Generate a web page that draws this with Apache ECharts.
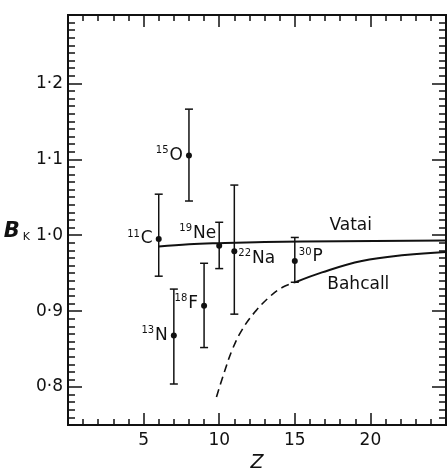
<!DOCTYPE html>
<html>
<head>
<meta charset="utf-8">
<script src="https://cdn.jsdelivr.net/npm/echarts@6/dist/echarts.min.js"></script>
<style>
html, body { margin: 0; padding: 0; background: #fff; }
#chart { width: 448px; height: 468px; }
</style>
</head>
<body>
<div id="chart"></div>
<script>
// measured nuclides
const nuclideMass = ['11', '15', '19', '22', '30', '18', '13'];
const nuclideSymbol = ['C', 'O', 'Ne', 'Na', 'P', 'F', 'N'];
const nuclideZ = [6, 8, 10, 11, 15, 9, 7];
const nuclideB = [0.995, 1.105, 0.986, 0.979, 0.966, 0.907, 0.868];
const errHigh = [1.054, 1.166, 1.017, 1.066, 0.997, 0.963, 0.929];
const errLow = [0.946, 1.045, 0.956, 0.896, 0.938, 0.852, 0.804];

// theory curves
const vataiZ = [6, 8, 10, 13, 18, 25];
const vataiB = [0.985, 0.988, 0.9895, 0.991, 0.992, 0.993];
const bahcallDashZ = [9.82, 10.33, 10.88, 11.53, 12.41, 13.4, 14.16, 15.04];
const bahcallDashB = [0.787, 0.819, 0.850, 0.876, 0.900, 0.920, 0.931, 0.938];
const bahcallZ = [15.04, 16.8, 19.43, 22.28, 25];
const bahcallB = [0.938, 0.951, 0.966, 0.974, 0.978];

// axes
const xLabelValues = [5, 10, 15, 20];
const yLabelValues = [0.8, 0.9, 1.0, 1.1, 1.2];
const yMinorValues = [];
for (let i = 75; i <= 129; i++) yMinorValues.push(i / 100);

const ink = '#111';
const font = 'DejaVu Sans';

// where each nuclide label sits relative to its point
const labelPlace = [
    { position: 'left', distance: 3, offset: [0, 0] },
    { position: 'left', distance: 3, offset: [0, 0] },
    { position: 'left', distance: 0, offset: [0, -12] },
    { position: 'right', distance: 1, offset: [0, 7] },
    { position: 'right', distance: 1, offset: [0, -4] },
    { position: 'left', distance: 3, offset: [0, -2] },
    { position: 'left', distance: 3, offset: [0, 0] }
];

const richLabel = {
    sup: { fontSize: 10, fontFamily: font, color: ink, verticalAlign: 'top', lineHeight: 10, padding: [0, 1, 0, 0] },
    el: { fontSize: 17, fontFamily: font, color: ink, lineHeight: 20 }
};

function xAxisCfg(pos) {
    return {
        type: 'value', min: 0, max: 25, interval: 5, position: pos,
        axisLine: { show: true, lineStyle: { color: ink, width: 2 } },
        axisTick: { show: true, inside: true, length: 12, lineStyle: { color: ink, width: 1.5 } },
        minorTick: { show: true, splitNumber: 5, length: 6, lineStyle: { color: ink, width: 1.5 } },
        axisLabel: {
            show: pos === 'bottom', customValues: xLabelValues, margin: 7,
            fontSize: 17, fontFamily: font, color: ink
        },
        splitLine: { show: false },
        minorSplitLine: { show: false },
        name: pos === 'bottom' ? 'Z' : '',
        nameLocation: 'middle', nameGap: 27,
        nameTextStyle: { fontSize: 19, fontStyle: 'italic', fontFamily: font, color: ink }
    };
}

function yAxisCfg(pos, major) {
    return {
        type: 'value', min: 0.75, max: 1.29, position: pos,
        axisLine: { show: true, lineStyle: { color: ink, width: 2 } },
        axisTick: {
            show: true, inside: true, customValues: major ? yLabelValues : yMinorValues,
            length: major ? 14 : 7, lineStyle: { color: ink, width: 1.5 }
        },
        axisLabel: {
            show: major && pos === 'left', customValues: yLabelValues, margin: 5,
            fontSize: 17, fontFamily: font, color: ink,
            formatter: v => v.toFixed(1).replace('.', '·')
        },
        splitLine: { show: false },
        name: major && pos === 'left' ? '{b|B}{k|K}' : '',
        nameLocation: 'middle', nameGap: 35, nameRotate: 0,
        nameTextStyle: {
            padding: [24, 0, 0, 0],
            rich: {
                b: { fontSize: 21, fontStyle: 'italic', fontWeight: 'bold', fontFamily: font, color: ink },
                k: { fontSize: 11, fontFamily: font, color: ink, verticalAlign: 'bottom', padding: [10, 0, 0, 3] }
            }
        }
    };
}

const chart = echarts.init(document.getElementById('chart'));
chart.setOption({
    animation: false,
    backgroundColor: '#fff',
    grid: { left: 68, right: 2, top: 15, bottom: 43, containLabel: false, outerBoundsMode: 'none' },
    xAxis: [xAxisCfg('bottom'), xAxisCfg('top')],
    yAxis: [yAxisCfg('left', true), yAxisCfg('left', false), yAxisCfg('right', true), yAxisCfg('right', false)],
    series: [
        {
            name: 'Vatai', type: 'line', smooth: 0.4, symbol: 'none',
            lineStyle: { color: ink, width: 2 },
            data: vataiZ.map((z, i) => [z, vataiB[i]]),
            markPoint: {
                symbol: 'circle', symbolSize: 1, itemStyle: { color: 'transparent' },
                label: { show: true, position: 'inside', formatter: 'Vatai', fontSize: 17, fontFamily: font, color: ink },
                data: [{ coord: [18.7, 1.013] }]
            }
        },
        {
            name: 'Bahcall (dashed)', type: 'line', smooth: 0.4, symbol: 'none',
            lineStyle: { color: ink, width: 1.6, type: [8, 5] },
            data: bahcallDashZ.map((z, i) => [z, bahcallDashB[i]])
        },
        {
            name: 'Bahcall', type: 'line', smooth: 0.4, symbol: 'none',
            lineStyle: { color: ink, width: 2 },
            data: bahcallZ.map((z, i) => [z, bahcallB[i]]),
            markPoint: {
                symbol: 'circle', symbolSize: 1, itemStyle: { color: 'transparent' },
                label: { show: true, position: 'inside', formatter: 'Bahcall', fontSize: 17, fontFamily: font, color: ink },
                data: [{ coord: [19.2, 0.9355] }]
            }
        },
        {
            name: 'errors', type: 'custom',
            renderItem: (params, api) => {
                const z = api.value(0);
                const hi = api.coord([z, api.value(1)]);
                const lo = api.coord([z, api.value(2)]);
                const w = 4;
                const style = { stroke: ink, lineWidth: 1.5 };
                return {
                    type: 'group',
                    children: [
                        { type: 'line', shape: { x1: hi[0], y1: hi[1], x2: lo[0], y2: lo[1] }, style },
                        { type: 'line', shape: { x1: hi[0] - w, y1: hi[1], x2: hi[0] + w, y2: hi[1] }, style },
                        { type: 'line', shape: { x1: lo[0] - w, y1: lo[1], x2: lo[0] + w, y2: lo[1] }, style }
                    ]
                };
            },
            encode: { x: 0, y: [1, 2] },
            data: nuclideZ.map((z, i) => [z, errHigh[i], errLow[i]])
        },
        {
            name: 'nuclides', type: 'scatter', symbol: 'circle', symbolSize: 6,
            itemStyle: { color: ink, opacity: 1 },
            data: nuclideZ.map((z, i) => ({
                value: [z, nuclideB[i]],
                label: Object.assign({
                    show: true, color: ink, textBorderWidth: 0,
                    formatter: '{sup|' + nuclideMass[i] + '}{el|' + nuclideSymbol[i] + '}',
                    rich: richLabel
                }, labelPlace[i])
            }))
        }
    ]
});
</script>
</body>
</html>
